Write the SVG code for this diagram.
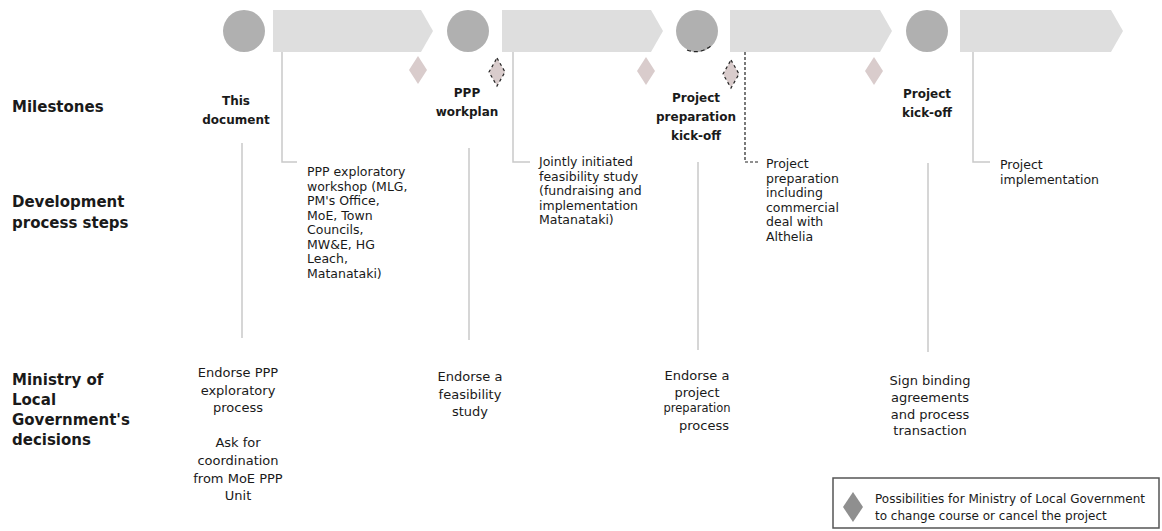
<svg xmlns="http://www.w3.org/2000/svg" width="1162" height="531" viewBox="0 0 1162 531">
<style>
.bg{fill:#ffffff}
.circ{fill:#b0b0b0}
.arr{fill:#dedede}
.dia{fill:#d9cccc}
.dia-mark{fill:#d9cccc;stroke:#222;stroke-width:1.2;stroke-dasharray:3 3}
.line{fill:none;stroke:#c9c9c9;stroke-width:1.5}
.dline{fill:none;stroke:#222;stroke-width:1.2;stroke-dasharray:3 2}
.row{font-family:"DejaVu Sans",sans-serif;font-weight:bold;font-size:15px;fill:#1a1a1a}
.ms{font-family:"DejaVu Sans",sans-serif;font-weight:bold;font-size:12px;fill:#1a1a1a;text-anchor:middle}
.step{font-family:"DejaVu Sans",sans-serif;font-size:12.5px;fill:#1a1a1a}
.dec{font-family:"DejaVu Sans",sans-serif;font-size:13px;fill:#1a1a1a;text-anchor:middle}
.leg{font-family:"DejaVu Sans",sans-serif;font-size:12px;fill:#1a1a1a}
</style>
<rect class="bg" x="0" y="0" width="1162" height="531"/>

<g id="timeline">
  <circle class="circ" cx="244" cy="31" r="21"/>
  <path class="arr" d="M273,10 H421 L433,31 L421,52 H273 Z"/>
  <circle class="circ" cx="468" cy="31" r="21"/>
  <path class="arr" d="M502,10 H651 L663,31 L651,52 H502 Z"/>
  <circle class="circ" cx="697" cy="31" r="21"/>
  <path d="M687,50 Q700,55 712,45" fill="none" stroke="#222" stroke-width="1.2" stroke-dasharray="4 3"/>
  <path class="arr" d="M730,10 H880 L892,31 L880,52 H730 Z"/>
  <circle class="circ" cx="927" cy="31" r="21"/>
  <path class="arr" d="M960,10 H1111 L1123,31 L1111,52 H960 Z"/>
</g>

<g id="diamonds">
  <path class="dia" d="M418,56 L427,70 L418,84 L409,70 Z"/>
  <path class="dia-mark" d="M497,58 L505,72 L497,86 L489,72 Z"/>
  <path class="dia" d="M646,57 L655,71 L646,85 L637,71 Z"/>
  <path class="dia-mark" d="M731,60 L739,74 L731,88 L723,74 Z"/>
  <path class="dia" d="M874,57 L883,71 L874,85 L865,71 Z"/>
</g>

<g id="connectors">
  <path class="line" d="M282,52 V162 H297"/>
  <path class="line" d="M513,52 V162 H530"/>
  <path class="dline" d="M745,52 V162 H758"/>
  <path class="line" d="M973,52 V162 H990"/>
  <path class="line" d="M242,143 V338"/>
  <path class="line" d="M469,148 V340"/>
  <path class="line" d="M698,162 V350"/>
  <path class="line" d="M928,163 V352"/>
</g>

<g id="row-labels">
  <text class="row" x="12" y="112">Milestones</text>
  <text class="row" x="12" y="207">Development</text>
  <text class="row" x="12" y="228">process steps</text>
  <text class="row" x="12" y="385">Ministry of</text>
  <text class="row" x="12" y="405">Local</text>
  <text class="row" x="12" y="425">Government's</text>
  <text class="row" x="12" y="445">decisions</text>
</g>

<g id="milestone-1"><text class="ms" x="236" y="105">This</text><text class="ms" x="236" y="124">document</text></g>
<g id="milestone-2"><text class="ms" x="467" y="97">PPP</text><text class="ms" x="467" y="116">workplan</text></g>
<g id="milestone-3"><text class="ms" x="696" y="102">Project</text><text class="ms" x="696" y="121">preparation</text><text class="ms" x="696" y="140">kick-off</text></g>
<g id="milestone-4"><text class="ms" x="927" y="98">Project</text><text class="ms" x="927" y="117">kick-off</text></g>

<g id="step-1">
  <text class="step" x="307" y="176">PPP exploratory</text>
  <text class="step" x="307" y="190.5">workshop (MLG,</text>
  <text class="step" x="307" y="205">PM's Office,</text>
  <text class="step" x="307" y="219.5">MoE, Town</text>
  <text class="step" x="307" y="234">Councils,</text>
  <text class="step" x="307" y="248.5">MW&amp;E, HG</text>
  <text class="step" x="307" y="263">Leach,</text>
  <text class="step" x="307" y="277.5">Matanataki)</text>
</g>
<g id="step-2">
  <text class="step" x="539" y="166">Jointly initiated</text>
  <text class="step" x="539" y="180.5">feasibility study</text>
  <text class="step" x="539" y="195">(fundraising and</text>
  <text class="step" x="539" y="209.5">implementation</text>
  <text class="step" x="539" y="224">Matanataki)</text>
</g>
<g id="step-3">
  <text class="step" x="766" y="168">Project</text>
  <text class="step" x="766" y="182.5">preparation</text>
  <text class="step" x="766" y="197">including</text>
  <text class="step" x="766" y="211.5">commercial</text>
  <text class="step" x="766" y="226">deal with</text>
  <text class="step" x="766" y="240.5">Althelia</text>
</g>
<g id="step-4">
  <text class="step" x="1000" y="169">Project</text>
  <text class="step" x="1000" y="184">implementation</text>
</g>

<g id="decision-1">
  <text class="dec" x="238" y="377">Endorse PPP</text>
  <text class="dec" x="238" y="394.5">exploratory</text>
  <text class="dec" x="238" y="412">process</text>
  <text class="dec" x="238" y="447">Ask for</text>
  <text class="dec" x="238" y="465">coordination</text>
  <text class="dec" x="238" y="483">from MoE PPP</text>
  <text class="dec" x="238" y="500">Unit</text>
</g>
<g id="decision-2">
  <text class="dec" x="470" y="381">Endorse a</text>
  <text class="dec" x="470" y="398.5">feasibility</text>
  <text class="dec" x="470" y="416">study</text>
</g>
<g id="decision-3">
  <text class="dec" x="697" y="380">Endorse a</text>
  <text class="dec" x="697" y="397">project</text>
  <text class="dec" x="697" y="412" style="font-size:11.5px">preparation</text>
  <text class="dec" x="704" y="430">process</text>
</g>
<g id="decision-4">
  <text class="dec" x="930" y="385">Sign binding</text>
  <text class="dec" x="930" y="402">agreements</text>
  <text class="dec" x="930" y="418.5">and process</text>
  <text class="dec" x="930" y="435">transaction</text>
</g>

<g id="legend">
  <rect x="833" y="478" width="326" height="50" fill="#ffffff" stroke="#555" stroke-width="1.5"/>
  <path d="M853,492 L863,507 L853,522 L843,507 Z" fill="#8f8f8f"/>
  <text class="leg" x="875" y="503">Possibilities for Ministry of Local Government</text>
  <text class="leg" x="875" y="520">to change course or cancel the project</text>
</g>
</svg>
